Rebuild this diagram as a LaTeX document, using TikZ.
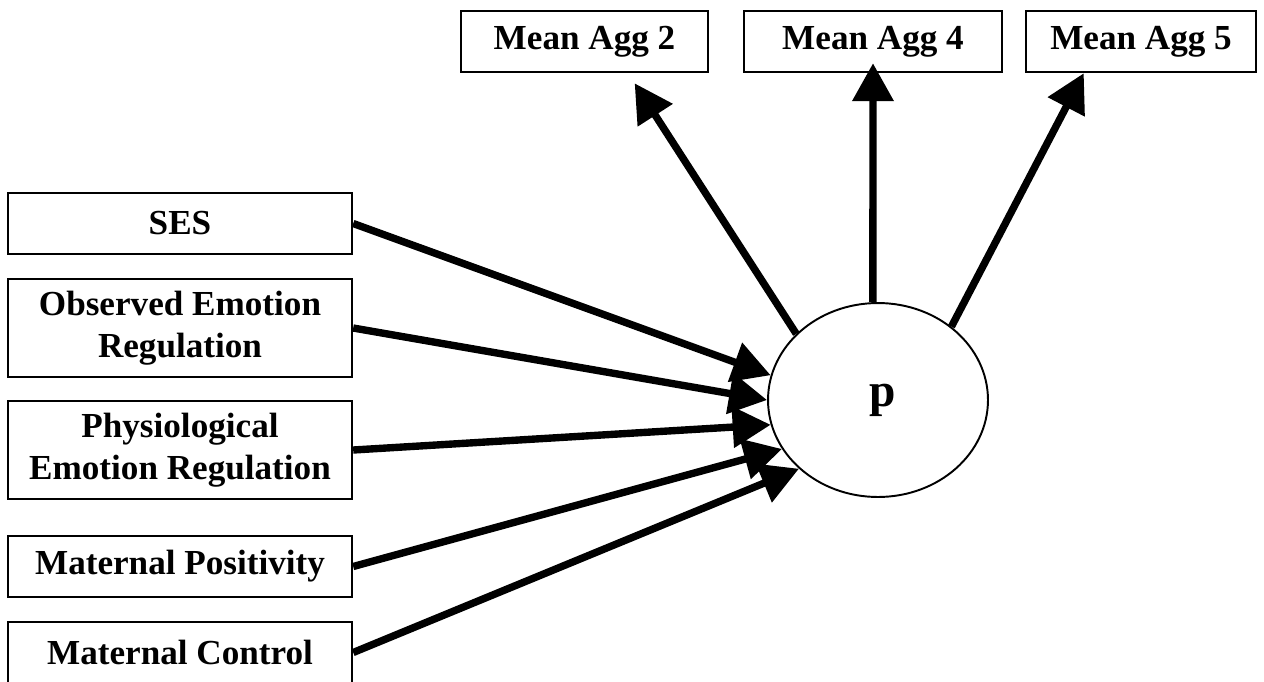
\documentclass[tikz,border=0pt]{standalone}
\usepackage{fontspec}
\setmainfont{Liberation Serif}
\usetikzlibrary{arrows.meta,shapes.geometric}

\begin{document}
\begin{tikzpicture}[x=0.02cm,y=-0.02cm,
   every node/.style={font=\fontsize{20}{24}\selectfont\bfseries},
   var/.style={draw,line width=1.4pt,minimum width=6.88cm,minimum height=1.22cm,inner sep=0pt,align=center},
   twoline/.style={var,minimum height=1.96cm},
   outvar/.style={draw,line width=1.4pt,minimum height=1.22cm,inner sep=0pt},
   latent/.style={draw,ellipse,line width=1.1pt,minimum width=4.4cm,minimum height=3.88cm,inner sep=0pt,font=\fontsize{27}{30}\selectfont\bfseries},
   load/.style={line width=4.2pt,-{Triangle[length=0.76cm,width=0.8cm]}}]
   \useasboundingbox[fill=white] (0,0) rectangle (1264,681);
   % predictors
   \node[var] (ses) at (180,223.5) {SES};
   \node[twoline] (obs) at (180,328) {Observed Emotion\\Regulation};
   \node[twoline] (phys) at (180,450) {Physiological\\Emotion Regulation};
   \node[var] (pos) at (180,566.5) {Maternal Positivity};
   \node[var] (ctrl) at (180,652.5) {Maternal Control};
   % factor and indicators
   \node[latent] (p) at (878,400) {\hspace{0.2cm}p};
   \node[outvar,minimum width=4.94cm] (agg2) at (584.5,41.5) {Mean Agg 2};
   \node[outvar,minimum width=5.16cm] (agg4) at (873,41.5) {Mean Agg 4};
   \node[outvar,minimum width=4.6cm] (agg5) at (1141,41.5) {Mean Agg 5};
   \draw[load] (ses.east) -- (p.167);
   \draw[load] (obs.east) -- (p.180);
   \draw[load] (phys.east) -- (p.193);
   \draw[load] (pos.east) -- (p.207);
   \draw[load] (ctrl.east) -- (p.221);
   \draw[load,shorten >=0.24cm] (p.141) -- (agg2.-36);
   \draw[load,shorten >=-0.2cm] (p.93) -- (agg4.south);
   \draw[load] (p.45) -- (agg5.209);
\end{tikzpicture}
\end{document}
